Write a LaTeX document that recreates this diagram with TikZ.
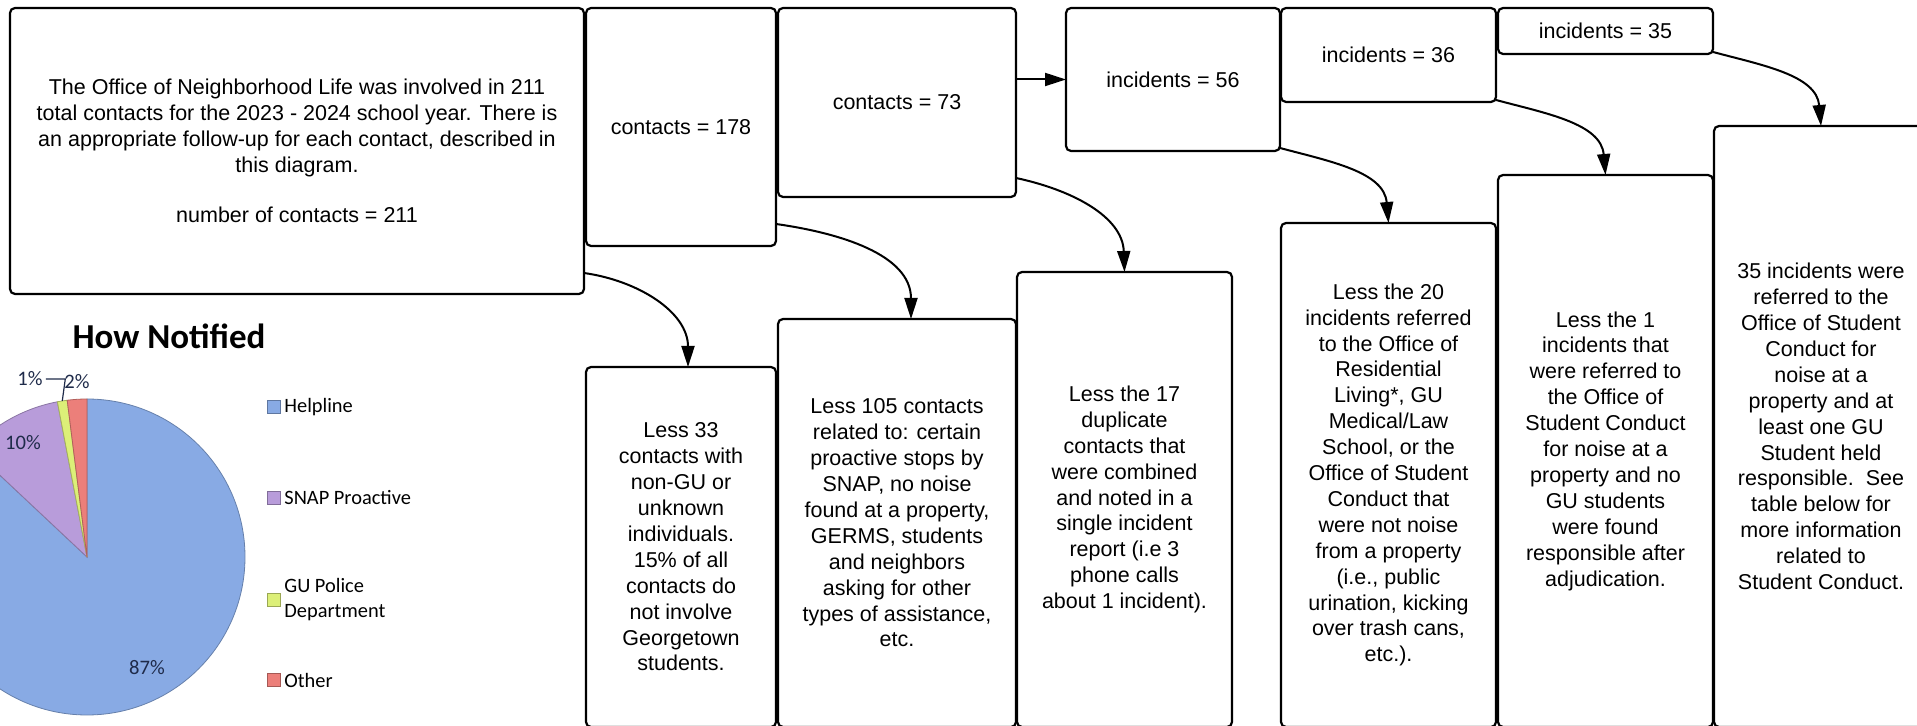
\documentclass[tikz,border=0pt]{standalone}
\usepackage{fontspec}
\setmainfont{Liberation Sans}
\newfontfamily\chartfont{Carlito}
\usepackage{xcolor}
\usetikzlibrary{arrows.meta,positioning}

\definecolor{helpblue}{HTML}{88AAE4}
\definecolor{snappurple}{HTML}{B89CDA}
\definecolor{gugreen}{HTML}{DCEF78}
\definecolor{otherred}{HTML}{EC7F7A}
\definecolor{pienavy}{HTML}{1F2B4A}

\begin{document}
\begin{tikzpicture}[
  x=0.5pt, y=-0.5pt,
  box/.style={draw, rounded corners=2.5pt, align=center, line width=1.1pt,
    outer sep=0pt, inner sep=0pt, font=\fontsize{10.75pt}{12.95pt}\selectfont},
  arr/.style={-{Triangle[length=10.5pt,width=6.5pt]}, line width=1pt},
  swatch/.style={draw=#1!70!black, fill=#1, minimum size=6.5pt, inner sep=0pt},
  legend/.style={font=\chartfont\fontsize{10.2pt}{12.5pt}\selectfont, align=left,
    inner sep=0pt, anchor=west},
  pct/.style={font=\chartfont\fontsize{10.3pt}{12pt}\selectfont, text=pienavy, inner sep=0pt},
  slice/.style={fill=#1, draw=#1!75!black, line width=0.4pt}
]
\useasboundingbox (0,0) rectangle (1917,726);
\clip (0,0) rectangle (1917,726);

% top row: totals
\node[box, minimum width=287pt, minimum height=143pt, anchor=north west] (main) at (10,8)
  {The Office of Neighborhood Life was involved in 211\\
   total contacts for the 2023 - 2024 school year. There is\\
   an appropriate follow-up for each contact, described in\\
   this diagram.\\[12.5pt]
   number of contacts = 211};
\node[box, minimum width=95pt, minimum height=119pt, right=1pt of main.north east, anchor=north west] (c178) {contacts = 178};
\node[box, minimum width=119pt, minimum height=94.5pt, right=1pt of c178.north east, anchor=north west] (c73) {contacts = 73};
\node[box, minimum width=107pt, minimum height=71.5pt, right=25pt of c73.north east, anchor=north west] (i56) {incidents = 56};
\node[box, minimum width=107.5pt, minimum height=47pt, right=0.5pt of i56.north east, anchor=north west] (i36) {incidents = 36};
\node[box, minimum width=107.5pt, minimum height=23pt, right=1pt of i36.north east, anchor=north west] (i35) {incidents = 35};

% bottom row: what is taken out
\node[box, minimum width=95pt, minimum height=180pt, below=60.5pt of c178.south west, anchor=north west] (l33)
  {Less 33\\contacts with\\non-GU or\\unknown\\individuals.\\15\% of all\\contacts do\\not involve\\Georgetown\\students.};
\node[box, minimum width=119pt, minimum height=204pt, below=61pt of c73.south west, anchor=north west] (l105)
  {Less 105 contacts\\related to: certain\\proactive stops by\\SNAP, no noise\\found at a property,\\GERMS, students\\and neighbors\\asking for other\\types of assistance,\\etc.};
\node[box, minimum width=107.5pt, minimum height=227.5pt, right=0.5pt of l105.north east, anchor=north west, yshift=23.5pt] (l17)
  {Less the 17\\duplicate\\contacts that\\were combined\\and noted in a\\single incident\\report (i.e 3\\phone calls\\about 1 incident).};
\node[box, minimum width=107.5pt, minimum height=252pt, below=60.5pt of i36.south west, anchor=north west] (l20)
  {Less the 20\\incidents referred\\to the Office of\\Residential\\Living*, GU\\Medical/Law\\School, or the\\Office of Student\\Conduct that\\were not noise\\from a property\\(i.e., public\\urination, kicking\\over trash cans,\\etc.).};
\node[box, minimum width=107.5pt, minimum height=276pt, below=60.5pt of i35.south west, anchor=north west] (l1)
  {Less the 1\\incidents that\\were referred to\\the Office of\\Student Conduct\\for noise at a\\property and no\\GU students\\were found\\responsible after\\adjudication.};
\node[box, minimum width=107pt, minimum height=300.5pt, right=0.5pt of l1.north east, anchor=north west, yshift=24.5pt] (l35)
  {35 incidents were\\referred to the\\Office of Student\\Conduct for\\noise at a\\property and at\\least one GU\\Student held\\responsible.~~See\\table below for\\more information\\related to\\Student Conduct.};

% connectors
\draw[arr] (c73.east |- i56.west) -- (i56.west);
\draw[arr] ([yshift=10.5pt]main.south east) to[out=-8, in=90] ([xshift=3.5pt]l33.north);
\draw[arr] ([yshift=11pt]c178.south east) to[out=-8, in=90] ([xshift=7pt]l105.north);
\draw[arr] ([yshift=9.5pt]c73.south east) to[out=-12, in=92] (l17.north);
\draw[arr] ([yshift=1.5pt]i56.south east) to[out=-15, in=95] (l20.north);
\draw[arr] ([yshift=1pt]i36.south east) to[out=-15, in=95] (l1.north);
\draw[arr] ([yshift=1pt]i35.south east) to[out=-15, in=95] (l35.north);

% pie chart: how notified
\node[font=\chartfont\bfseries\fontsize{17.5pt}{19pt}\selectfont] (title) at (169,336) {How Notified};
\coordinate (pc) at (87,557);
\filldraw[slice=helpblue] (pc) -- ++(90:79pt) arc[start angle=90, end angle=-223.2, radius=79pt] -- cycle;
\filldraw[slice=snappurple] (pc) -- ++(136.8:79pt) arc[start angle=136.8, end angle=100.8, radius=79pt] -- cycle;
\filldraw[slice=gugreen] (pc) -- ++(100.8:79pt) arc[start angle=100.8, end angle=97.2, radius=79pt] -- cycle;
\filldraw[slice=otherred] (pc) -- ++(97.2:79pt) arc[start angle=97.2, end angle=90, radius=79pt] -- cycle;
\node[pct] (p87) at (147,668) {87\%};
\node[pct] (p10) at (23,443) {10\%};
\node[pct] (p1) at (30,379) {1\%};
\node[pct] (p2) at (77,382) {2\%};
\coordinate (gutip) at ([shift={(99:79pt)}]pc);
\draw[line width=0.6pt, pienavy] ([xshift=1.5pt]p1.east) -- ([xshift=1.5pt]p1.east -| gutip) -- (gutip);

% legend
\node[legend] (lhelp) at (284,407) {Helpline};
\node[legend] (lsnap) at (284,498) {SNAP Proactive};
\node[legend] (lgu) at (284,600) {GU Police\\Department};
\node[legend] (lother) at (284,680) {Other};
\node[swatch=helpblue, left=1.5pt of lhelp] (khelp) {};
\node[swatch=snappurple, left=1.5pt of lsnap] (ksnap) {};
\node[swatch=gugreen, left=1.5pt of lgu] (kgu) {};
\node[swatch=otherred, left=1.5pt of lother] (kother) {};
\end{tikzpicture}
\end{document}
